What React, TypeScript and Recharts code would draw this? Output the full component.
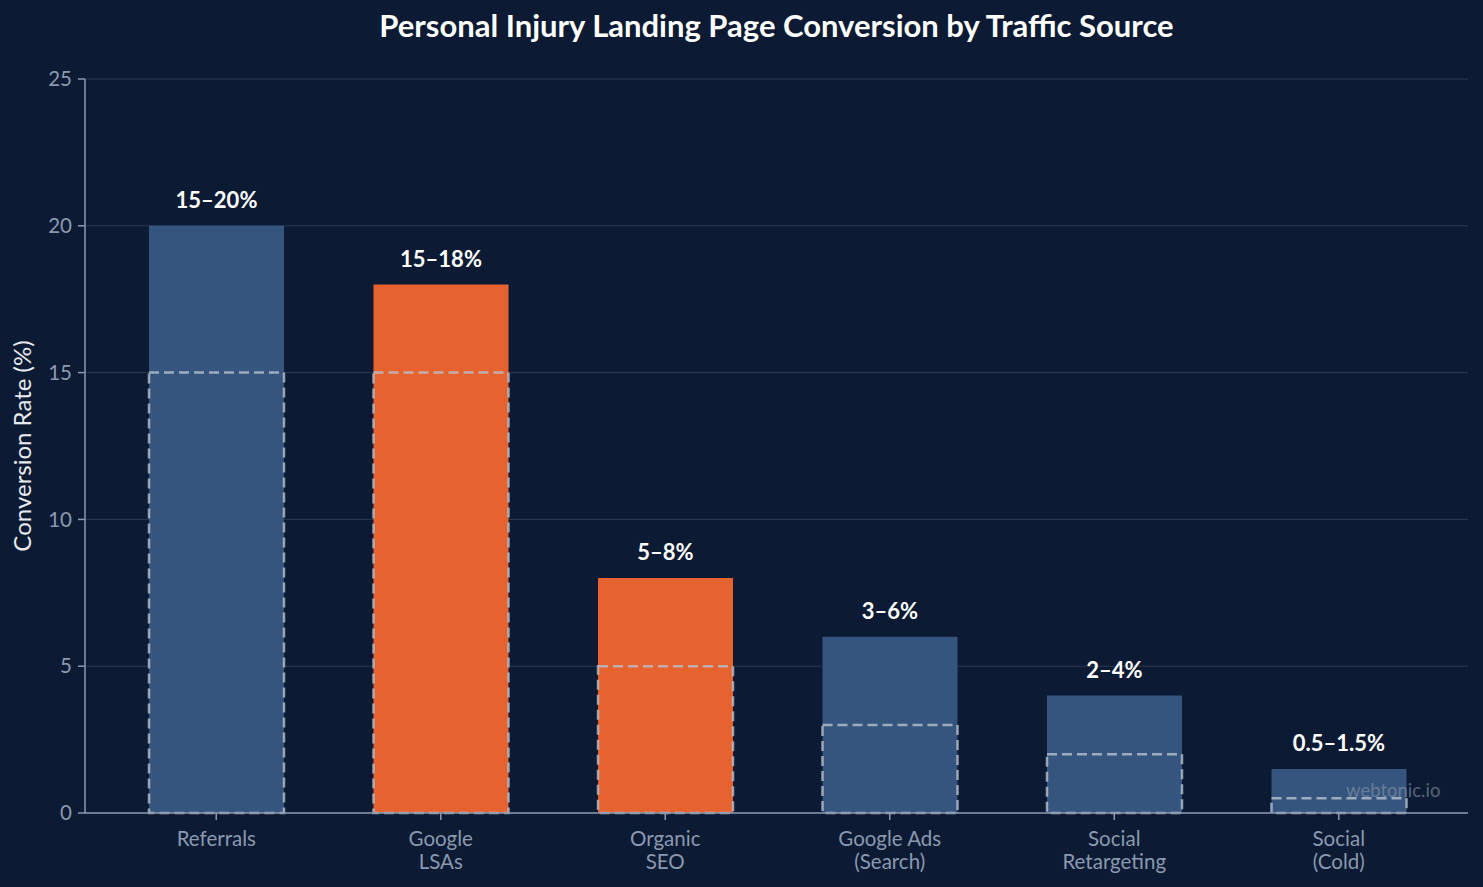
import React from 'react';
import { BarChart, Bar, XAxis, YAxis, CartesianGrid, Cell, LabelList } from 'recharts';

const sources = ['Referrals', 'Google\nLSAs', 'Organic\nSEO', 'Google Ads\n(Search)', 'Social\nRetargeting', 'Social\n(Cold)'];
const lowRates = [15, 15, 5, 3, 2, 0.5];
const highRates = [20, 18, 8, 6, 4, 1.5];
const rangeLabels = ['15–20%', '15–18%', '5–8%', '3–6%', '2–4%', '0.5–1.5%'];
const highlighted = [false, true, true, false, false, false];
const yTicks = [0, 5, 10, 15, 20, 25];

const BG = '#0c1b33';
const BLUE = '#35557f';
const ORANGE = '#e6622e';
const AXIS = '#8a99b0';
const FONT = 'Lato, "Noto Sans", sans-serif';

const data = sources.map((name, i) => ({
  name,
  low: lowRates[i],
  high: highRates[i],
  label: rangeLabels[i],
}));

const SourceTick = (props: any) => {
  const { x, y, payload } = props;
  const lines = String(payload.value).split('\n');
  return (
    <g transform={`translate(${x},${y})`}>
      {lines.map((line, i) => (
        <text key={i} x={0} y={24 + i * 23} textAnchor="middle" fill={AXIS} fontSize={20.5} fontFamily={FONT}>
          {line}
        </text>
      ))}
    </g>
  );
};

const RangeLabel = (props: any) => {
  const { x, y, width, value } = props;
  return (
    <text x={x + width / 2} y={y - 18} textAnchor="middle" fill="#ffffff" fontSize={22} fontWeight={700} fontFamily={FONT}>
      {value}
    </text>
  );
};

export default function App() {
  return (
    <div style={{ position: 'absolute', left: 0, top: 0, width: 1483, height: 887, background: BG, fontFamily: FONT }}>
      <div
        style={{
          position: 'absolute',
          left: 85,
          width: 1383,
          top: 6,
          textAlign: 'center',
          color: '#ffffff',
          fontSize: 31,
          fontWeight: 700,
        }}
      >
        Personal Injury Landing Page Conversion by Traffic Source
      </div>
      <BarChart width={1483} height={887} data={data} margin={{ top: 79, right: 15, bottom: 0, left: 0 }} barGap={0}>
        <CartesianGrid vertical={false} stroke="#2b3b56" strokeWidth={1} />
        <XAxis
          dataKey="name"
          xAxisId="main"
          height={74}
          padding={{ left: 19, right: 17 }}
          stroke={AXIS}
          strokeWidth={1.5}
          tickLine={{ stroke: AXIS, strokeWidth: 1.5 }}
          tickSize={7}
          interval={0}
          tick={<SourceTick />}
        />
        <XAxis dataKey="name" xAxisId="range" hide padding={{ left: 19, right: 17 }} />
        <YAxis
          domain={[0, 25]}
          ticks={yTicks}
          width={85}
          stroke={AXIS}
          strokeWidth={1.5}
          tickLine={{ stroke: AXIS, strokeWidth: 1.5 }}
          tickSize={7}
          tickMargin={6}
          tick={{ fill: AXIS, fontSize: 20.5, fontFamily: FONT }}
          label={{
            value: 'Conversion Rate (%)',
            angle: -90,
            position: 'insideLeft',
            offset: 22,
            style: { fill: '#e8ecf2', fontSize: 24, fontFamily: FONT, textAnchor: 'middle' },
          }}
        />
        <Bar dataKey="high" xAxisId="main" barSize={135} isAnimationActive={false}>
          {data.map((d, i) => (
            <Cell key={`hi-${i}`} fill={highlighted[i] ? ORANGE : BLUE} />
          ))}
          <LabelList dataKey="label" content={<RangeLabel />} />
        </Bar>
        <Bar
          dataKey="low"
          xAxisId="range"
          barSize={135}
          fill="none"
          stroke="#b8c0cf"
          strokeOpacity={0.8}
          strokeWidth={2.5}
          strokeDasharray="10 5"
          isAnimationActive={false}
        />
      </BarChart>
      <div
        style={{
          position: 'absolute',
          left: 1346,
          top: 779,
          color: '#8a96a8',
          opacity: 0.6,
          fontSize: 18.5,
        }}
      >
        webtonic.io
      </div>
    </div>
  );
}
